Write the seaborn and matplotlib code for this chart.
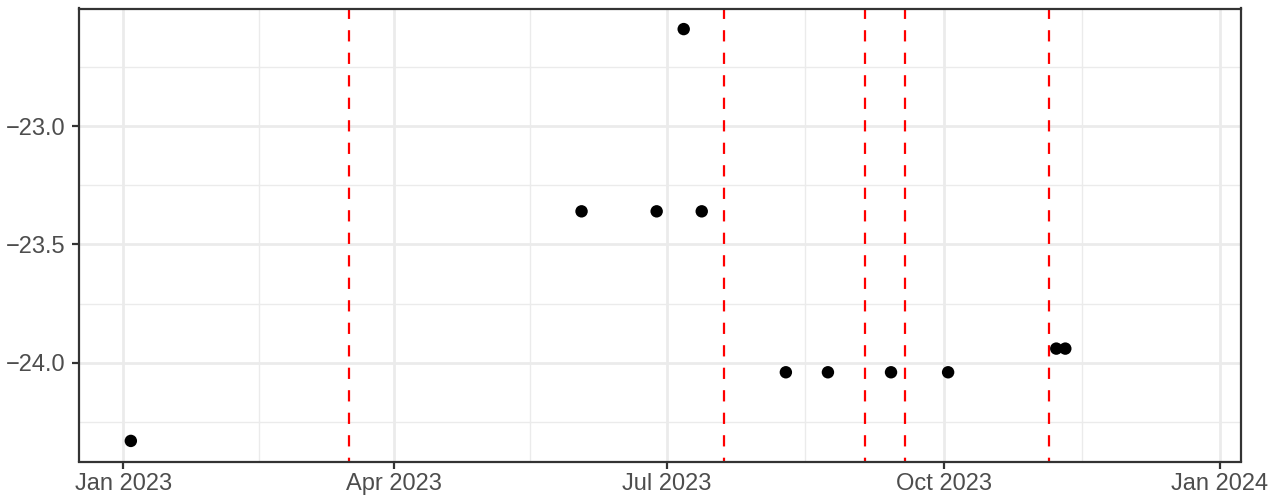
import matplotlib
matplotlib.use("Agg")
import matplotlib.pyplot as plt
import matplotlib.dates as mdates
from matplotlib.ticker import FixedLocator, FuncFormatter
import seaborn as sns
import pandas as pd

# ---- data ----
point_dates = ["2023-01-03 12:00", "2023-06-02 12:00", "2023-06-27 12:00", "2023-07-06 12:00",
               "2023-07-12 12:00", "2023-08-09 12:00", "2023-08-23 12:00", "2023-09-13 12:00",
               "2023-10-02 12:00", "2023-11-07 12:00", "2023-11-10 12:00"]
point_values = [-24.33, -23.36, -23.36, -22.59, -23.36,
                -24.04, -24.04, -24.04, -24.04,
                -23.94, -23.94]
event_dates = ["2023-03-17", "2023-07-20", "2023-09-05", "2023-09-18", "2023-11-05"]
x_major = ["2023-01-01", "2023-04-01", "2023-07-01", "2023-10-01", "2024-01-01"]
x_major_labels = ["Jan 2023", "Apr 2023", "Jul 2023", "Oct 2023", "Jan 2024"]
x_minor = ["2023-02-15", "2023-05-16 12:00", "2023-08-16", "2023-11-16"]
y_major = [-24.0, -23.5, -23.0]
y_minor = [-24.25, -23.75, -23.25, -22.75]
x_limits = ["2022-12-17 06:00", "2024-01-07 21:00"]
y_limits = [-24.417, -22.503]

df = pd.DataFrame({"date": pd.to_datetime(point_dates), "value": point_values})

sns.set_theme(style="white")
plt.rcParams["font.family"] = ["Liberation Sans", "DejaVu Sans"]
plt.rcParams["lines.scale_dashes"] = False

fig = plt.figure(figsize=(12.68, 5.03), dpi=100)
ax = fig.add_axes([79 / 1268, 41.5 / 503, 1161.7 / 1268, 453 / 503])

grid_col = "#EBEBEB"
for d in x_minor:
    ax.axvline(mdates.date2num(pd.to_datetime(d)), color=grid_col, lw=1.0, zorder=0)
for v in y_minor:
    ax.axhline(v, color=grid_col, lw=1.0, zorder=0)
for d in x_major:
    ax.axvline(mdates.date2num(pd.to_datetime(d)), color=grid_col, lw=2.0, zorder=0)
for v in y_major:
    ax.axhline(v, color=grid_col, lw=2.0, zorder=0)

for d in event_dates:
    ax.axvline(mdates.date2num(pd.to_datetime(d)), color="#FF0000", lw=1.6,
               linestyle=(5, (8.1, 8.1)), zorder=2)

sns.scatterplot(data=df, x="date", y="value", ax=ax, color="black", s=80,
                edgecolor="none", linewidth=0, zorder=3, legend=False)

ax.set_xlim(mdates.date2num(pd.to_datetime(x_limits[0])),
            mdates.date2num(pd.to_datetime(x_limits[1])))
ax.set_ylim(*y_limits)

ax.set_xticks(mdates.date2num(pd.to_datetime(x_major)))
ax.set_xticklabels(x_major_labels)
ax.set_yticks(y_major)
ax.yaxis.set_major_formatter(FuncFormatter(lambda v, p: f"{v:.1f}".replace("-", "\u2212")))

ax.tick_params(axis="both", which="major", length=5, width=1.6, color="#333333",
               labelcolor="#4D4D4D", labelsize=17, direction="out")
ax.tick_params(axis="y", pad=5)
ax.tick_params(axis="x", pad=3)
ax.tick_params(bottom=True, left=True)

for sp in ax.spines.values():
    sp.set_visible(True)
    sp.set_color("#333333")
    sp.set_linewidth(1.6)
    sp.set_zorder(4)

ax.set_xlabel("")
ax.set_ylabel("")
ax.grid(False)
ax.set_facecolor("white")

fig.savefig("out.png", dpi=100, facecolor="white")
